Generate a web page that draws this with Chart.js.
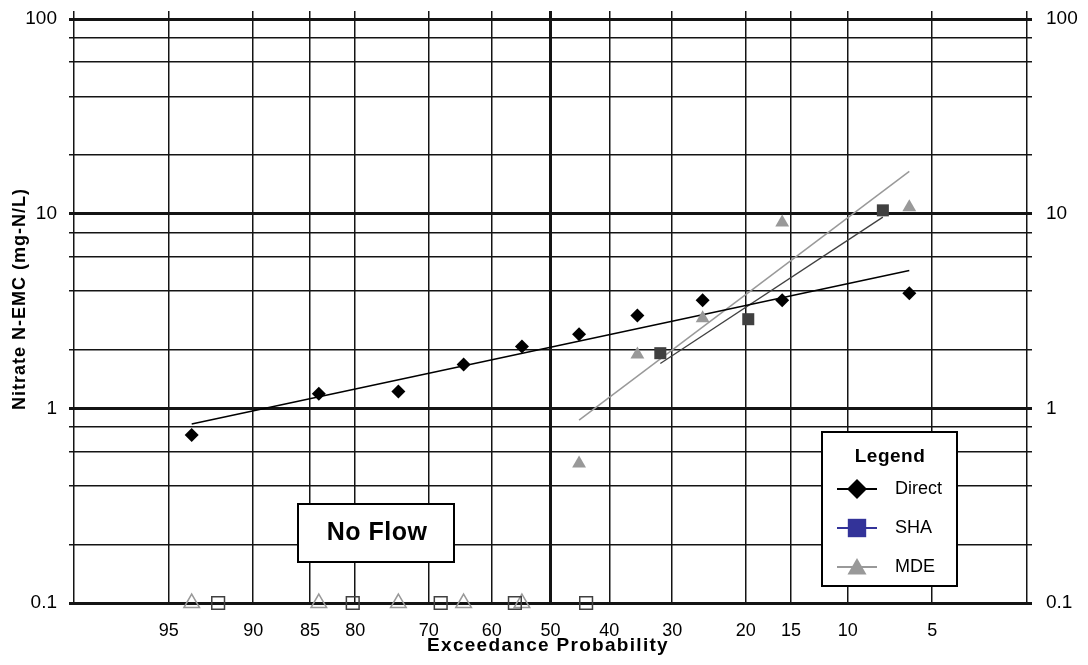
<!DOCTYPE html>
<html><head><meta charset="utf-8">
<script src="https://cdn.jsdelivr.net/npm/chart.js@4"></script>
<style>html,body{margin:0;padding:0;background:#fff}#wrap{width:1088px;height:665px}</style>
</head><body><div id="wrap"><canvas id="c" width="1088" height="665"></canvas></div>
<script>
// ---------- data (exceedance probability in %, concentration in mg-N/L) ----------
const xTickProbs = [95, 90, 85, 80, 70, 60, 50, 40, 30, 20, 15, 10, 5];
const xRangeProbs = [98, 2];
const yGridValues = [0.1, 0.2, 0.4, 0.6, 0.8, 1, 2, 4, 6, 8, 10, 20, 40, 60, 80, 100];
const yLabelValues = [0.1, 1, 10, 100];

const directProb = [93.9, 84.1, 74.4, 64.6, 54.9, 45.1, 35.4, 25.6, 15.9, 6.1];
const directVal  = [0.73, 1.19, 1.22, 1.68, 2.08, 2.40, 3.00, 3.59, 3.59, 3.90];

const shaProb = [31.8, 19.7, 7.6];
const shaVal  = [1.92, 2.87, 10.4];

const mdeProb = [45.1, 35.4, 25.6, 15.9, 6.1];
const mdeVal  = [0.52, 1.89, 2.90, 9.0, 10.8];

const noFlowShaProb = [92.4, 80.3, 68.2, 56.1, 43.9];
const noFlowShaVal  = [0.1, 0.1, 0.1, 0.1, 0.1];
const noFlowMdeProb = [93.9, 84.1, 74.4, 64.6, 54.9];
const noFlowMdeVal  = [0.1, 0.1, 0.1, 0.1, 0.1];

const directTrendProb = [93.9, 6.1];
const directTrendVal  = [0.83, 5.1];
const shaTrendProb = [31.8, 7.6];
const shaTrendVal  = [1.70, 9.6];
const mdeTrendProb = [45.1, 6.1];
const mdeTrendVal  = [0.87, 16.5];

const legendNames = ['Direct', 'SHA', 'MDE'];
const yTitle = 'Nitrate N-EMC (mg-N/L)';
const xTitle = 'Exceedance Probability';
const noFlowText = 'No Flow';
const legendTitle = 'Legend';

// ---------- normal probability scale transform ----------
function probit(p) {
  const a = [-3.969683028665376e+01, 2.209460984245205e+02, -2.759285104469687e+02, 1.383577518672690e+02, -3.066479806614716e+01, 2.506628277459239e+00];
  const b = [-5.447609879822406e+01, 1.615858368580409e+02, -1.556989798598866e+02, 6.680131188771972e+01, -1.328068155288572e+01];
  const c = [-7.784894002430293e-03, -3.223964580411365e-01, -2.400758277161838e+00, -2.549671010229528e+00, 4.374664141464968e+00, 2.938163982698783e+00];
  const d = [7.784695709041462e-03, 3.224671290700398e-01, 2.445134137142996e+00, 3.754408661907416e+00];
  const pl = 0.02425, ph = 1 - pl; let q, r;
  if (p < pl) { q = Math.sqrt(-2 * Math.log(p)); return (((((c[0]*q+c[1])*q+c[2])*q+c[3])*q+c[4])*q+c[5]) / ((((d[0]*q+d[1])*q+d[2])*q+d[3])*q+1); }
  if (p <= ph) { q = p - 0.5; r = q * q; return (((((a[0]*r+a[1])*r+a[2])*r+a[3])*r+a[4])*r+a[5])*q / (((((b[0]*r+b[1])*r+b[2])*r+b[3])*r+b[4])*r+1); }
  q = Math.sqrt(-2 * Math.log(1 - p)); return -(((((c[0]*q+c[1])*q+c[2])*q+c[3])*q+c[4])*q+c[5]) / ((((d[0]*q+d[1])*q+d[2])*q+d[3])*q+1);
}
const toZ = prob => probit(1 - prob / 100);
const pts = (probs, vals) => probs.map((p, i) => ({ x: toZ(p), y: vals[i] }));

const xTickZ = [toZ(xRangeProbs[0]), ...xTickProbs.map(toZ), toZ(xRangeProbs[1])];
const xTickText = ['', ...xTickProbs.map(String), ''];

// ---------- styling ----------
const FONT = "'Liberation Sans', Arial, Helvetica, sans-serif";
Chart.defaults.font.family = FONT;
Chart.defaults.color = '#000';
const GRID = '#141414';
const xLineW = ctx => (ctx.tick && Math.abs(ctx.tick.value) < 1e-9) ? 3 : 1.5;
const yLineW = ctx => (ctx.tick && yLabelValues.includes(ctx.tick.value)) ? 3 : 1.5;
const setXTicks = s => { s.ticks = xTickZ.map(v => ({ value: v })); };
const setYTicks = s => { s.ticks = yGridValues.map(v => ({ value: v })); };
const fixPad = s => { s.paddingTop = 0; s.paddingBottom = 0; s.paddingLeft = 0; s.paddingRight = 0; };

const overlay = {
  id: 'overlay',
  afterDraw(chart) {
    const ctx = chart.ctx;
    ctx.save();
    ctx.fillStyle = '#000';
    // axis titles
    ctx.font = 'bold 18px ' + FONT;
    ctx.letterSpacing = '1px';
    ctx.textAlign = 'center'; ctx.textBaseline = 'middle';
    ctx.save();
    ctx.translate(20, 299); ctx.rotate(-Math.PI / 2);
    ctx.fillText(yTitle, 0, 0);
    ctx.restore();
    ctx.font = 'bold 19px ' + FONT;
    ctx.letterSpacing = '1.3px';
    ctx.fillText(xTitle, 548, 646);

    // No Flow box
    ctx.letterSpacing = '0.5px';
    ctx.fillStyle = '#fff';
    ctx.fillRect(298, 504, 156, 58);
    ctx.lineWidth = 2; ctx.strokeStyle = '#000';
    ctx.strokeRect(298, 504, 156, 58);
    ctx.fillStyle = '#000';
    ctx.font = 'bold 25px ' + FONT;
    ctx.fillText(noFlowText, 377, 533);

    // Legend box
    const lx = 822, ly = 432, lw = 135, lh = 154;
    ctx.fillStyle = '#fff';
    ctx.fillRect(lx, ly, lw, lh);
    ctx.strokeRect(lx, ly, lw, lh);
    ctx.fillStyle = '#000';
    ctx.font = 'bold 19px ' + FONT;
    ctx.fillText(legendTitle, 890, 457);
    ctx.letterSpacing = '0px';
    const items = [
      { color: '#000', style: 'rectRot', r: 10 },
      { color: '#333399', style: 'rect', r: 13 },
      { color: '#999999', style: 'triangle', r: 11 }
    ];
    const rows = [489, 528, 567];
    items.forEach((it, i) => {
      const y = rows[i];
      ctx.strokeStyle = it.color; ctx.lineWidth = 2;
      ctx.beginPath(); ctx.moveTo(837, y); ctx.lineTo(877, y); ctx.stroke();
      ctx.fillStyle = it.color;
      Chart.helpers.drawPoint(ctx, { pointStyle: it.style, radius: it.r, rotation: 0, borderWidth: 0 }, 857, it.style === 'triangle' ? y + 2 : y);
      ctx.fillStyle = '#000';
      ctx.font = '18px ' + FONT;
      ctx.textAlign = 'left';
      ctx.fillText(legendNames[i], 895, y);
      ctx.textAlign = 'center';
    });
    ctx.restore();
  }
};

new Chart(document.getElementById('c'), {
  type: 'scatter',
  data: {
    datasets: [
      { label: 'Direct', data: pts(directProb, directVal), pointStyle: 'rectRot', pointRadius: 7, backgroundColor: '#000', borderColor: '#000', borderWidth: 0, clip: false, xAxisID: 'x', yAxisID: 'y' },
      { label: 'SHA', data: pts(shaProb, shaVal), pointStyle: 'rect', pointRadius: 8.5, backgroundColor: '#404040', borderColor: '#404040', borderWidth: 0, clip: false, xAxisID: 'x', yAxisID: 'y' },
      { label: 'MDE', data: pts(mdeProb, mdeVal), pointStyle: 'triangle', pointRadius: 8, backgroundColor: '#999999', borderColor: '#999999', borderWidth: 0, clip: false, xAxisID: 'x', yAxisID: 'y' },
      { label: 'SHA no flow', data: pts(noFlowShaProb, noFlowShaVal), pointStyle: 'rect', pointRadius: 9, backgroundColor: 'rgba(0,0,0,0)', borderColor: '#404040', borderWidth: 1.5, clip: false, xAxisID: 'x', yAxisID: 'y' },
      { label: 'MDE no flow', data: pts(noFlowMdeProb, noFlowMdeVal), pointStyle: 'triangle', pointRadius: 9, backgroundColor: 'rgba(0,0,0,0)', borderColor: '#999999', borderWidth: 1.5, clip: false, xAxisID: 'x', yAxisID: 'y' },
      { label: 'Direct trend', data: pts(directTrendProb, directTrendVal), showLine: true, pointRadius: 0, borderColor: '#000', borderWidth: 1.5, xAxisID: 'x', yAxisID: 'y' },
      { label: 'SHA trend', data: pts(shaTrendProb, shaTrendVal), showLine: true, pointRadius: 0, borderColor: '#404040', borderWidth: 1.3, xAxisID: 'x', yAxisID: 'y' },
      { label: 'MDE trend', data: pts(mdeTrendProb, mdeTrendVal), showLine: true, pointRadius: 0, borderColor: '#999999', borderWidth: 1.5, xAxisID: 'x', yAxisID: 'y' }
    ]
  },
  options: {
    responsive: false,
    devicePixelRatio: 1,
    animation: false,
    layout: { padding: 0 },
    plugins: { legend: { display: false }, tooltip: { enabled: false } },
    scales: {
      x: {
        type: 'linear', position: 'bottom', min: xTickZ[0], max: xTickZ[xTickZ.length - 1],
        afterBuildTicks: setXTicks,
        afterFit: s => { s.height = 62; fixPad(s); },
        grid: { color: GRID, lineWidth: xLineW, drawTicks: false },
        border: { display: false },
        ticks: { autoSkip: false, maxRotation: 0, padding: 17, color: '#000', font: { size: 18 }, callback: (v, i) => xTickText[i] }
      },
      x2: {
        type: 'linear', position: 'top', min: xTickZ[0], max: xTickZ[xTickZ.length - 1],
        afterBuildTicks: setXTicks,
        afterFit: s => { s.height = 19; fixPad(s); },
        grid: { color: GRID, lineWidth: xLineW, drawOnChartArea: false, drawTicks: true, tickLength: 8 },
        border: { display: false },
        ticks: { display: false }
      },
      y: {
        type: 'logarithmic', position: 'left', min: 0.1, max: 100,
        afterBuildTicks: setYTicks,
        afterFit: s => { s.width = 74; fixPad(s); },
        grid: { color: GRID, lineWidth: yLineW, tickLength: 5 },
        border: { display: false },
        ticks: { autoSkip: false, padding: 12, color: '#000', font: { size: 19 }, callback: v => yLabelValues.includes(v) ? String(v) : '' }
      },
      y2: {
        type: 'logarithmic', position: 'right', min: 0.1, max: 100,
        afterBuildTicks: setYTicks,
        afterFit: s => { s.width = 61; fixPad(s); },
        grid: { color: GRID, lineWidth: yLineW, drawOnChartArea: false, tickLength: 5 },
        border: { display: false },
        ticks: { autoSkip: false, padding: 14, color: '#000', font: { size: 19 }, callback: v => yLabelValues.includes(v) ? String(v) : '' }
      }
    }
  },
  plugins: [overlay]
});
</script>
</body></html>
